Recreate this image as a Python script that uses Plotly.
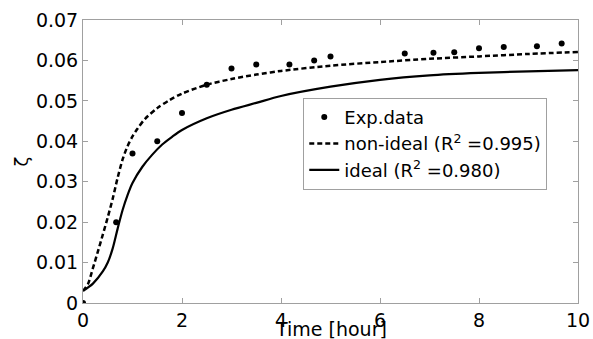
import plotly.graph_objects as go

# Experimental data
t_exp = [0, 0.67, 1.0, 1.5, 2.0, 2.5, 3.0, 3.5, 4.17, 4.67, 5.0, 6.5, 7.08, 7.5, 8.0, 8.5, 9.17, 9.67]
zeta_exp = [0.0, 0.020, 0.037, 0.040, 0.047, 0.054, 0.058, 0.059, 0.059, 0.060, 0.061,
            0.0617, 0.0619, 0.062, 0.063, 0.0633, 0.0635, 0.0642]

# Non-ideal model curve
t_nonideal = [0, 0.1, 0.2, 0.3, 0.4, 0.5, 0.6, 0.7, 0.8, 0.9, 1.0, 1.1, 1.25, 1.5, 1.75, 2.0,
              2.5, 3.0, 3.5, 4.0, 5.0, 6.0, 7.0, 8.0, 9.0, 10.0]
zeta_nonideal = [0.003, 0.0047, 0.0086, 0.0127, 0.0169, 0.0212, 0.0258, 0.0310, 0.0355, 0.0388,
                 0.0412, 0.0431, 0.0455, 0.0482, 0.0502, 0.0518, 0.054, 0.0554, 0.0565, 0.0574,
                 0.0587, 0.0596, 0.0604, 0.061, 0.0616, 0.0621]

# Ideal model curve
t_ideal = [0, 0.2, 0.4, 0.5, 0.6, 0.7, 0.8, 0.9, 1.0, 1.2, 1.4, 1.6, 1.8, 2.0, 2.5, 3.0,
           3.5, 4.0, 5.0, 6.0, 7.0, 8.0, 9.0, 10.0]
zeta_ideal = [0.003, 0.0048, 0.0078, 0.0100, 0.0135, 0.0184, 0.0230, 0.0267, 0.0297, 0.0337,
              0.0367, 0.0392, 0.0411, 0.0428, 0.0457, 0.0478, 0.0495, 0.0512, 0.0535,
              0.0552, 0.0563, 0.0569, 0.0573, 0.0576]

x_ticks = [0, 2, 4, 6, 8, 10]
y_ticks = [0, 0.01, 0.02, 0.03, 0.04, 0.05, 0.06, 0.07]
y_ticklabels = ["0", "0.01", "0.02", "0.03", "0.04", "0.05", "0.06", "0.07"]

FONT = "DejaVu Sans"

fig = go.Figure()
fig.add_trace(go.Scatter(x=t_exp, y=zeta_exp, mode="markers", name="Exp.data",
                         marker=dict(color="black", size=6)))
fig.add_trace(go.Scatter(x=t_nonideal, y=zeta_nonideal, mode="lines",
                         name="non-ideal (R<sup>2</sup> =0.995)",
                         line=dict(color="black", width=2.5, dash="5px,3px", shape="spline",
                                   smoothing=0.8)))
fig.add_trace(go.Scatter(x=t_ideal, y=zeta_ideal, mode="lines",
                         name="ideal (R<sup>2</sup> =0.980)",
                         line=dict(color="black", width=2.2, shape="spline", smoothing=0.8)))

axis_common = dict(showgrid=False, zeroline=False, showline=True, linecolor="#a0a0a0",
                   linewidth=1, mirror="ticks", ticks="inside", ticklen=5, automargin=False,
                   tickcolor="#a0a0a0", tickfont=dict(family=FONT, size=19, color="black"))

fig.update_xaxes(range=[0, 10], tickvals=x_ticks, **axis_common)
fig.update_yaxes(range=[0, 0.07], tickvals=y_ticks, ticktext=y_ticklabels,
                 title=dict(text="ζ", font=dict(family=FONT, size=18, color="black"),
                            standoff=2),
                 **axis_common)

fig.add_annotation(text="Time [hour]", xref="paper", yref="paper", x=0.5, y=-0.092,
                   xanchor="center", yanchor="middle", showarrow=False,
                   font=dict(family=FONT, size=19, color="black"))

fig.update_layout(
    width=593, height=339,
    margin=dict(l=83, r=15, t=20, b=36),
    paper_bgcolor="white", plot_bgcolor="white",
    font=dict(family=FONT, color="black"),
    showlegend=True,
    legend=dict(x=0.445, y=0.725, xanchor="left", yanchor="top",
                bgcolor="white", bordercolor="#a0a0a0", borderwidth=1,
                font=dict(family=FONT, size=18, color="black"),
                itemwidth=30, tracegroupgap=0),
)

fig.write_html("out.html", config={"displayModeBar": False},
               post_script="document.body.style.margin='0px';document.body.style.overflow='hidden';")
